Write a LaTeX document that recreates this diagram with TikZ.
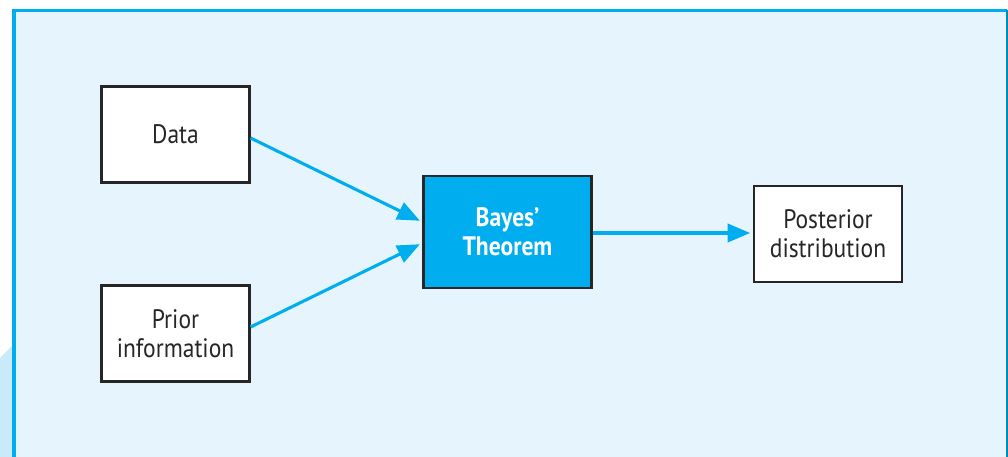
\documentclass[tikz,border=0pt]{standalone}
\usepackage{fontspec}
\setmainfont{PT Sans}[FakeStretch=0.88]
\usetikzlibrary{positioning,calc,arrows.meta}
\definecolor{cyanline}{HTML}{00AEEF}
\definecolor{panelbg}{HTML}{E6F5FD}
\definecolor{tabbg}{HTML}{C8EAF9}
\tikzset{
  box/.style={draw=black!85, line width=1.5pt, fill=white, align=center,
    minimum width=3.7cm, minimum height=2.4cm, inner sep=0pt,
    font=\fontsize{19}{20.5}\selectfont, text=black!85},
  bayes/.style={box, fill=cyanline, text=white, minimum width=4.2cm,
    minimum height=2.8cm, font=\fontsize{19}{20.5}\selectfont\bfseries},
  flow/.style={draw=cyanline, line width=2.2pt,
    -{Triangle[length=16pt,width=13pt]}, shorten >=2pt}
}
\newcommand{\bnode}[4]{\node [#1] (#2) at (#3) {#4}}

\begin{document}
\begin{tikzpicture}[x=0.025cm, y=-0.025cm]
\useasboundingbox (0,0) rectangle (1008,457);

% panel
\fill[tabbg] (0,358) -- (13,345) -- (13,457) -- (0,457) -- cycle;
\fill[panelbg] (13,10) rectangle (1008,457);
\draw[cyanline, line width=2.2pt] (14,460) |- (1006.5,10.5);
\draw[cyanline!80!black, line width=0.8pt] (1007,10) -- (1007,460);

\bnode{box}{DATA}{175.5,134.5}{Data};
\bnode{box}{PRIOR}{175.5,333.5}{Prior\\information};
\bnode{bayes}{BAYES}{507.5,232}{Bayes'\\Theorem};
\bnode{box}{POST}{828,234}{Posterior\\distribution};

\draw[flow] (DATA.east |- 0,138) -- (BAYES.west |- 0,222);
\draw[flow] (PRIOR.east |- 0,327) -- (BAYES.west |- 0,243);
\draw[flow] (BAYES.east |- 0,233) -- (POST.west |- 0,233);

\end{tikzpicture}
\end{document}
